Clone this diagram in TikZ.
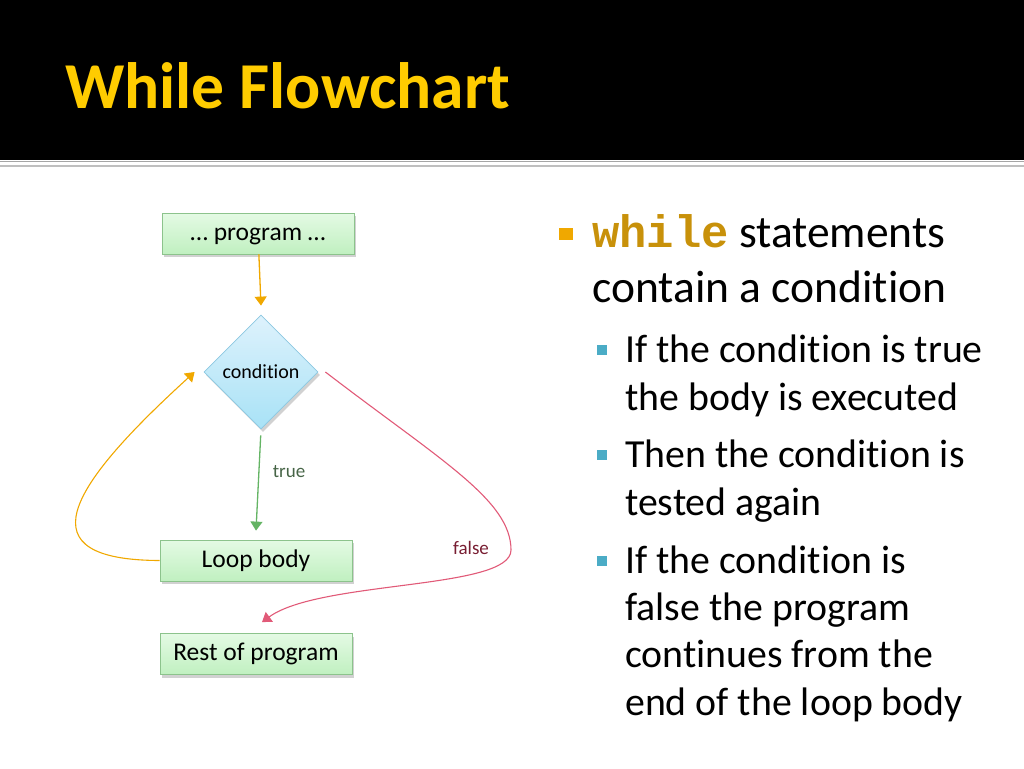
\documentclass[tikz,border=0pt]{standalone}
\usepackage{fontspec}
\setmainfont{Carlito}[Ligatures=NoCommon]
\setmonofont{Liberation Mono}
\usetikzlibrary{positioning,arrows.meta,shapes.geometric,shadows}
\definecolor{titleyellow}{RGB}{255,204,0}
\definecolor{codegold}{RGB}{200,145,10}
\definecolor{bulletorange}{RGB}{240,168,0}
\definecolor{bulletblue}{RGB}{75,172,198}
\definecolor{flowyellow}{RGB}{240,168,0}
\definecolor{flowgreen}{RGB}{100,180,100}
\definecolor{flowpink}{RGB}{225,90,120}
\definecolor{truetext}{RGB}{70,100,70}
\definecolor{falsetext}{RGB}{120,30,50}
\definecolor{boxtop}{RGB}{228,250,228}
\definecolor{boxbottom}{RGB}{192,240,192}
\definecolor{boxline}{RGB}{140,195,140}
\definecolor{condtop}{RGB}{222,242,252}
\definecolor{condbottom}{RGB}{168,226,246}
\definecolor{condline}{RGB}{140,200,225}

\tikzset{
  stepbox/.style={draw=boxline, line width=0.8pt, top color=boxtop, bottom color=boxbottom,
    minimum width=192pt, minimum height=41pt, inner sep=0pt, text height=18pt, text depth=5pt,
    drop shadow={shadow xshift=2pt, shadow yshift=-3pt, opacity=0.3, fill=black!60},
    font=\fontsize{25.5}{30}\selectfont},
  decision/.style={diamond, aspect=1, draw=condline, line width=0.8pt,
    top color=condtop, bottom color=condbottom, minimum width=114pt, minimum height=114pt, inner sep=0pt,
    drop shadow={shadow xshift=2pt, shadow yshift=-3pt, opacity=0.3, fill=black!60},
    font=\fontsize{20}{24}\selectfont},
  flow/.style={line width=1.3pt, -{Triangle[width=12pt,length=9pt]}},
  bigtext/.style={anchor=base west, inner sep=0pt, font=\fontsize{45.5}{55}\selectfont},
  subtext/.style={anchor=base west, inner sep=0pt, font=\fontsize{39.8}{48}\selectfont},
}

\begin{document}
\begin{tikzpicture}[x=1pt,y=1pt]
  \useasboundingbox (0,0) rectangle (1024,-768);
  % title band
  \fill[black] (0,0) rectangle (1024,-160);
  \draw[gray!70, line width=1pt] (0,-161) -- (1024,-161);
  \draw[gray!50, line width=2.5pt] (0,-166) -- (1024,-166);
  \node[anchor=base west, inner sep=0pt, text=titleyellow, font=\fontsize{65.5}{72}\selectfont\bfseries]
    (title) at (65,-108) {While Flowchart};

  % flowchart
  \node[stepbox] (prog) at (258,-233.5) {… program …};
  \node[decision] (cond) at (261,-372) {condition};
  \node[stepbox] (body) at (256,-560.5) {Loop body};
  \node[stepbox] (rest) at (256,-654) {Rest of program};
  \coordinate (turn) at (511,-550);

  \draw[flow, flowyellow] (prog) -- ([yshift=9pt]cond.north);
  \draw[flow, flowgreen, shorten <=6pt] (cond.south) -- ([yshift=9pt]body.north);
  \draw[flow, flowyellow, line width=1.1pt] (body.west) .. controls (25,-560) and (65,-490) .. ([xshift=-9pt]cond.west);
  \draw[flow, flowpink, line width=1.1pt] ([xshift=7pt]cond.east) .. controls (440,-460) and (511,-500) .. (turn)
     .. controls (511,-590) and (320,-580) .. ([shift={(6pt,11pt)}]rest.north);
  \node[text=truetext, font=\fontsize{19}{22}\selectfont] (truelbl) at (289,-472) {true};
  \node[text=falsetext, font=\fontsize{19}{22}\selectfont] (falselbl) at (471,-548) {false};

  % bullets
  \fill[bulletorange] (558.5,-228) rectangle (572.5,-240);
  \node[bigtext] (l1) at (592,-247) {\textcolor{codegold}{\ttfamily\bfseries while} statements};
  \node[bigtext] (l2) at (592,-302) {contain a condition};
  \foreach \y in {350,455,561}
    \fill[bulletblue] (597,-\y+5) rectangle (607,-\y-5);
  \node[subtext] (s1) at (625,-362) {If the condition is true};
  \node[subtext] (s2) at (625,-410) {the body is executed};
  \node[subtext] (s3) at (625,-467) {Then the condition is};
  \node[subtext] (s4) at (625,-515) {tested again};
  \node[subtext] (s5) at (625,-573) {If the condition is};
  \node[subtext] (s6) at (625,-620) {false the program};
  \node[subtext] (s7) at (625,-667) {continues from the};
  \node[subtext] (s8) at (625,-715) {end of the loop body};
\end{tikzpicture}
\end{document}
